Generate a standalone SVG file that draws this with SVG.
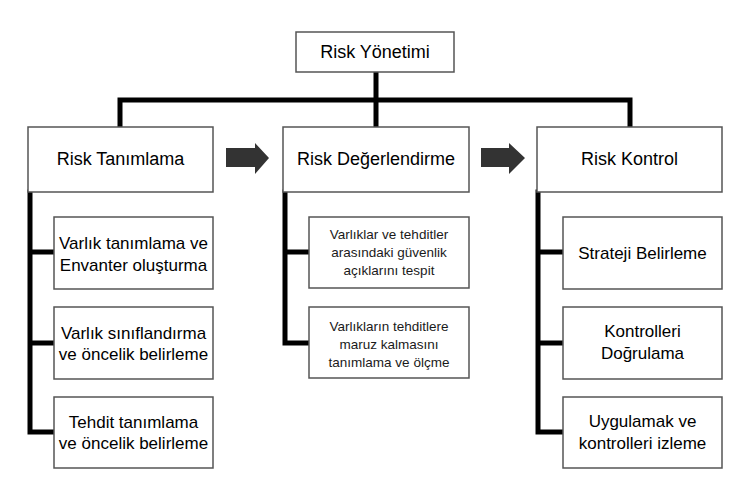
<svg xmlns="http://www.w3.org/2000/svg" width="750" height="500" viewBox="0 0 750 500">
<style>
.box{fill:#fff;stroke:#555;stroke-width:1.5}
.ln{stroke:#000;stroke-width:5;fill:none;stroke-linecap:square}
.t{font-family:"Liberation Sans",Arial,sans-serif;fill:#000;text-anchor:middle}
.t18{font-size:18px}
.t17{font-size:17px}
.t13{font-size:13.5px;fill:#1a1a1a}
.arr{fill:#333}
</style>
<rect width="750" height="500" fill="#fff"/>
<g id="connectors">
<path class="ln" d="M376,72V100M120,100H630M120,100V127M376,100V127M630,100V127"/>
<path class="ln" d="M30,192V432M30,252H54M30,343H54M30,432H54"/>
<path class="ln" d="M285,192V343M285,252H309M285,343H309"/>
<path class="ln" d="M538,192V432M538,252H563M538,343H563M538,432H563"/>
<polygon class="arr" points="226,148 255,148 255,143 269,158 255,174 255,167 226,167"/>
<polygon class="arr" points="481,148 509,148 509,143 525,158 509,174 509,167 481,167"/>
</g>
<g id="risk-yonetimi"><rect class="box" x="296" y="32" width="158" height="40"/><text class="t t18" x="375" y="58">Risk Yönetimi</text></g>
<g id="risk-tanimlama"><rect class="box" x="28" y="127" width="185" height="65"/><text class="t t18" x="120.5" y="165">Risk Tanımlama</text></g>
<g id="risk-degerlendirme"><rect class="box" x="283" y="127" width="186" height="65"/><text class="t t18" x="376" y="165">Risk Değerlendirme</text></g>
<g id="risk-kontrol"><rect class="box" x="537" y="127" width="185" height="65"/><text class="t t18" x="629.5" y="165">Risk Kontrol</text></g>
<g id="varlik-tanimlama"><rect class="box" x="54" y="217" width="159" height="72"/><text class="t t17" x="133.5" y="249">Varlık tanımlama ve</text><text class="t t17" x="133.5" y="271">Envanter oluşturma</text></g>
<g id="varlik-siniflandirma"><rect class="box" x="54" y="307" width="159" height="72"/><text class="t t17" x="133.5" y="339">Varlık sınıflandırma</text><text class="t t17" x="133.5" y="360">ve öncelik belirleme</text></g>
<g id="tehdit-tanimlama"><rect class="box" x="54" y="397" width="159" height="71"/><text class="t t17" x="133.5" y="428">Tehdit tanımlama</text><text class="t t17" x="133.5" y="449">ve öncelik belirleme</text></g>
<g id="guvenlik-aciklari"><rect class="box" x="309" y="217" width="160" height="71"/><text class="t t13" x="389" y="239">Varlıklar ve tehditler</text><text class="t t13" x="389" y="257">arasındaki güvenlik</text><text class="t t13" x="389" y="275">açıklarını tespit</text></g>
<g id="maruz-kalma"><rect class="box" x="309" y="307" width="160" height="71"/><text class="t t13" x="389" y="331">Varlıkların tehditlere</text><text class="t t13" x="389" y="349">maruz kalmasını</text><text class="t t13" x="389" y="367">tanımlama ve ölçme</text></g>
<g id="strateji"><rect class="box" x="563" y="217" width="159" height="72"/><text class="t t17" x="642.5" y="259">Strateji Belirleme</text></g>
<g id="kontrolleri-dogrulama"><rect class="box" x="563" y="307" width="159" height="72"/><text class="t t17" x="642.5" y="337">Kontrolleri</text><text class="t t17" x="642.5" y="359">Doğrulama</text></g>
<g id="uygulamak"><rect class="box" x="563" y="397" width="159" height="71"/><text class="t t17" x="642.5" y="427">Uygulamak ve</text><text class="t t17" x="642.5" y="449">kontrolleri izleme</text></g>
</svg>
